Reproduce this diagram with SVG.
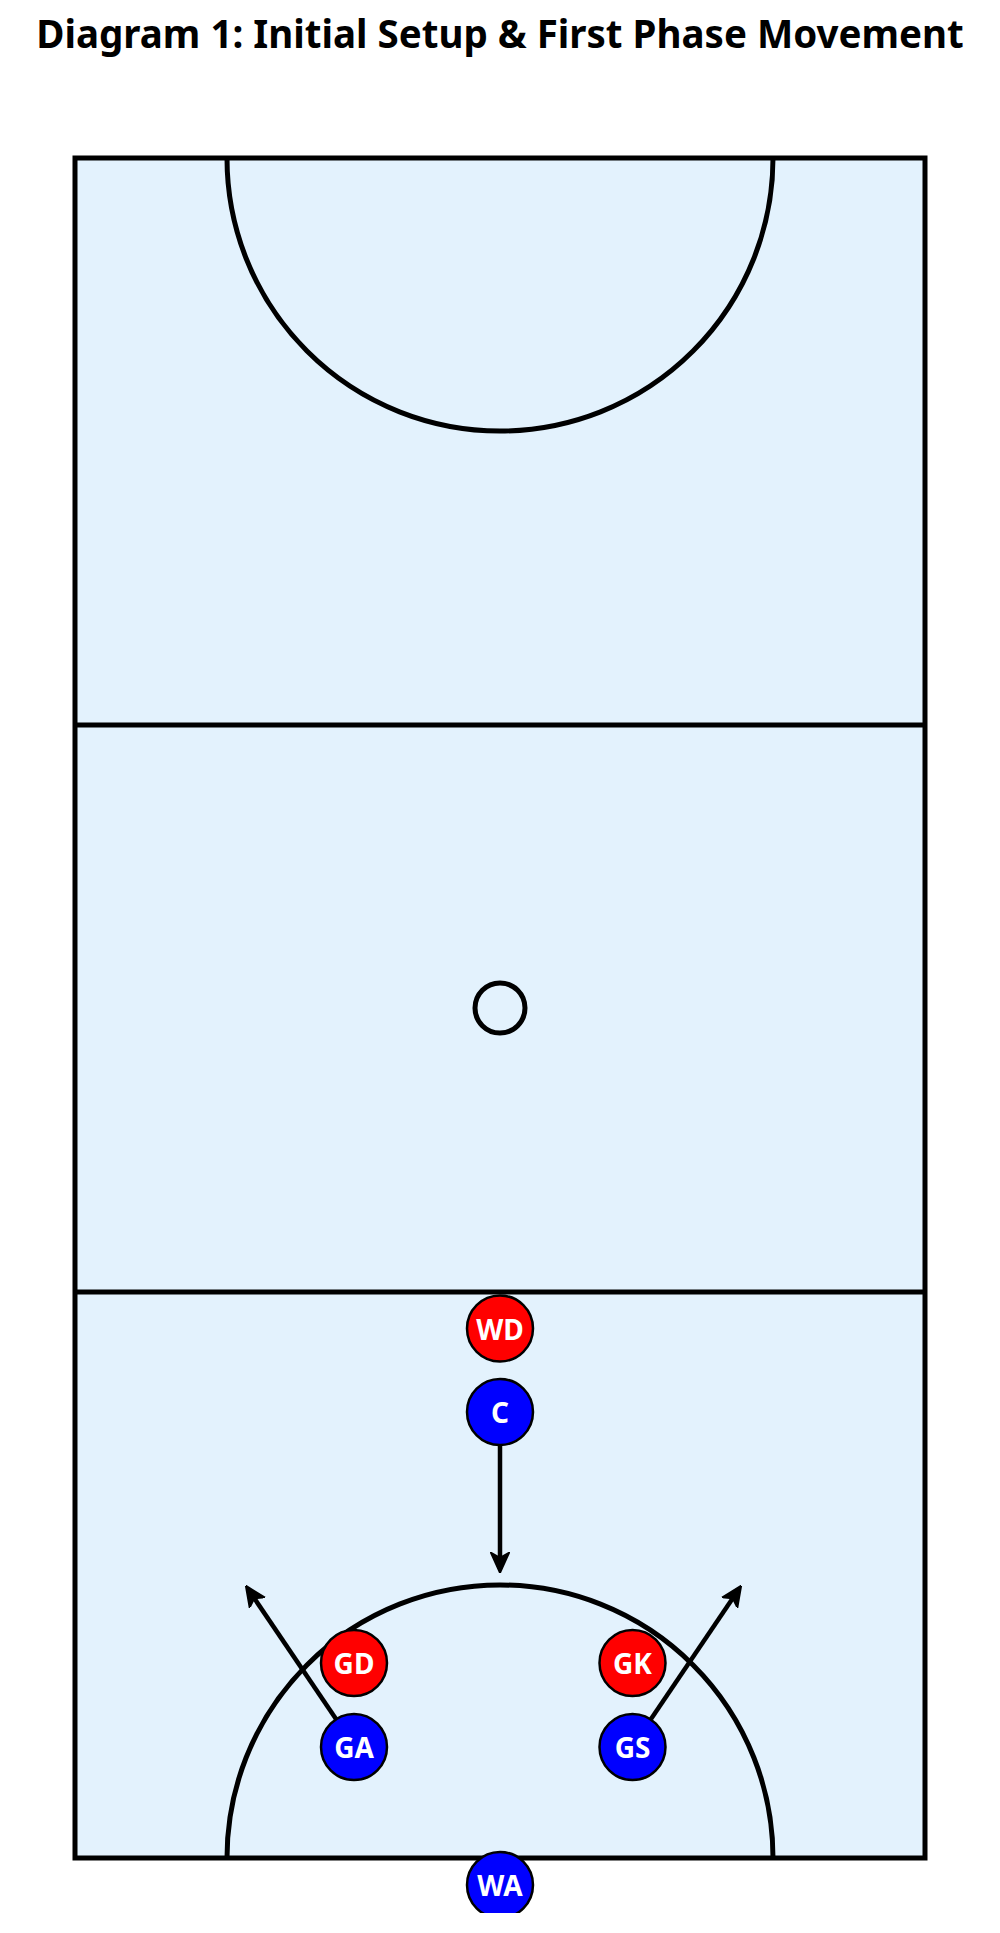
<svg xmlns="http://www.w3.org/2000/svg" width="1000" height="1933" viewBox="0 0 1000 1933">
<style>
.title{font-family:"Noto Sans","Open Sans","DejaVu Sans",sans-serif;font-weight:bold;font-size:38.5px;fill:#000}
.court{fill:#e3f2fd;stroke:#000;stroke-width:5}
.line{fill:none;stroke:#000;stroke-width:5}
.arrow{fill:none;stroke:#000;stroke-width:4.5;marker-end:url(#ah)}
.red{fill:#ff0000;stroke:#000;stroke-width:2.5}
.blue{fill:#0000ff;stroke:#000;stroke-width:2.5}
.lbl{font-family:"Noto Sans","Open Sans","DejaVu Sans",sans-serif;font-weight:bold;font-size:28px;fill:#fff;text-anchor:middle;dominant-baseline:central}
</style>
<defs>
<marker id="ah" viewBox="0 0 10 10" refX="8" refY="5" markerWidth="4.6" markerHeight="4.6" orient="auto" markerUnits="strokeWidth">
<path d="M0,0.5 L10,5 L0,9.5 L2.5,5 z" fill="#000" stroke="#000" stroke-width="0.8" stroke-linejoin="round"/>
</marker>
<clipPath id="clipBottom"><rect x="0" y="0" width="1000" height="1913"/></clipPath>
</defs>
<rect width="1000" height="1933" fill="#fff"/>
<text class="title" x="500" y="48" text-anchor="middle">Diagram 1: Initial Setup &amp; First Phase Movement</text>
<g id="court">
<rect class="court" x="75" y="158" width="850" height="1700"/>
<line class="line" x1="75" y1="725" x2="925" y2="725"/>
<line class="line" x1="75" y1="1292" x2="925" y2="1292"/>
<circle class="line" cx="500" cy="1008" r="25"/>
<path class="line" d="M227,158 A273,273 0 0 0 773,158"/>
<path class="line" d="M227,1858 A273,273 0 0 1 773,1858"/>
</g>
<g id="connectors">
<line class="arrow" x1="500" y1="1445" x2="500" y2="1569"/>
<line class="arrow" x1="336" y1="1719" x2="248" y2="1589"/>
<line class="arrow" x1="651" y1="1719" x2="739" y2="1589"/>
</g>
<g id="WD"><circle class="red" cx="500" cy="1328.5" r="33"/><text class="lbl" x="500" y="1328.5">WD</text></g>
<g id="C"><circle class="blue" cx="500" cy="1412" r="33"/><text class="lbl" x="500" y="1412">C</text></g>
<g id="GD"><circle class="red" cx="354" cy="1663" r="33"/><text class="lbl" x="354" y="1663">GD</text></g>
<g id="GK"><circle class="red" cx="632.5" cy="1663" r="33"/><text class="lbl" x="632.5" y="1663">GK</text></g>
<g id="GA"><circle class="blue" cx="354" cy="1747" r="33"/><text class="lbl" x="354" y="1747">GA</text></g>
<g id="GS"><circle class="blue" cx="632.5" cy="1747" r="33"/><text class="lbl" x="632.5" y="1747">GS</text></g>
<g id="WA" clip-path="url(#clipBottom)"><circle class="blue" cx="500" cy="1885" r="33"/><text class="lbl" x="500" y="1885">WA</text></g>
</svg>
